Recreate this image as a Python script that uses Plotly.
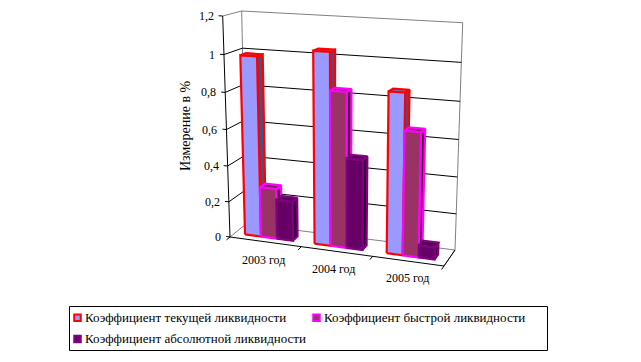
import plotly.graph_objects as go

categories = ["2003 год", "2004 год", "2005 год"]
series_names = ["Коэффициент текущей ликвидности", "Коэффициент быстрой ликвидности", "Коэффициент абсолютной ликвидности"]
s1_values = [0.99, 1.04, 0.86]
s2_values = [0.28, 0.84, 0.665]
s3_values = [0.22, 0.49, 0.065]
tick_values = [0, 0.2, 0.4, 0.6, 0.8, 1.0, 1.2]
tick_labels = ["0", "0,2", "0,4", "0,6", "0,8", "1", "1,2"]
y_title = "Измерение в %"

VMAX = 1.2
K = 0.946
# pixel positions of the eight corners of the 3D box: (u, top, depth)
C = {(0,0,0):(230,237),(0,1,0):(222.7,16),(0,0,1):(246,224),(0,1,1):(241.7,11),
     (1,0,0):(444,266),(1,1,0):(449.7,29.7),(1,0,1):(455,250),(1,1,1):(462.7,22.7)}

def proj(u, v, d):
    t = v / VMAX
    f = t * K / (1 + (K - 1) * t)
    x = y = 0.0
    for (a, b, c), (px, py) in C.items():
        w = (u if a else 1-u) * (f if b else 1-f) * (d if c else 1-d)
        x += w*px; y += w*py
    return x, y

fig = go.Figure()

def line(pts, color, width=1):
    xy = [proj(*p) for p in pts]
    fig.add_trace(go.Scatter(x=[a for a,_ in xy], y=[b for _,b in xy], mode="lines",
        line=dict(color=color, width=width), showlegend=False, hoverinfo="skip"))

def face(pts, fill, color, width):
    xy = [proj(*p) for p in pts + pts[:1]]
    fig.add_trace(go.Scatter(x=[a for a,_ in xy], y=[b for _,b in xy], mode="lines", fill="toself",
        fillcolor=fill, line=dict(color=color, width=width), showlegend=False, hoverinfo="skip"))

GRAY = "#808080"
# walls
line([(0,0,0),(0,0,1),(1,0,1),(1,0,0)], GRAY)
line([(0,0,1),(0,VMAX,1),(1,VMAX,1),(1,0,1)], GRAY)
line([(0,VMAX,0),(0,VMAX,1)], GRAY)
for v in tick_values[1:-1]:
    line([(0,v,0),(0,v,1),(1,v,1)], "black")
# axes
line([(0,0,0),(0,VMAX,0)], "black")
line([(0,0,0),(1,0,0),(1,0,1)], "black")
for v in tick_values:
    line([(-0.018,v,0),(0,v,0)], "black")
for i in range(len(categories)+1):
    line([(i/3,0,0),(i/3,0,-0.22)], "black")

styles = [("#9999ff","#4d4d80","#7373c0","#ff0000"),
          ("#993366","#4d1a33","#732650","#ff00ff"),
          ("#660066","#330033","#4d004d","#800080")]
series = [s1_values, s2_values, s3_values]
W, D0, D1 = 0.075, 0.30, 0.62
SHIFT = [0.006, 0.012, 0.006]
for i in range(len(categories)):
    left = (i+0.5)/3 - 1.5*W - SHIFT[i]
    for j, vals in enumerate(series):
        v = vals[i]
        a, b = left + j*W, left + (j+1)*W
        front, side, top, edge = styles[j]
        face([(b,0,D0),(b,0,D1),(b,v,D1),(b,v,D0)], side, edge, 2.2)
        face([(a,v,D0),(a,v,D1),(b,v,D1),(b,v,D0)], top, edge, 2.2)
        face([(a,0,D0),(b,0,D0),(b,v,D0),(a,v,D0)], front, edge, 2.2)

# legend, drawn by hand so that the marker sits right against its text
LX = [77.5, 316.5, 77.5]
LY = [317.7, 317.7, 339]
for name, st, lx, ly in zip(series_names, styles, LX, LY):
    fig.add_trace(go.Scatter(x=[lx], y=[ly], mode="markers", name=name, showlegend=False, hoverinfo="skip",
        marker=dict(symbol="square", size=6.5, color=st[0], line=dict(color=st[3], width=2))))

ann = []
for v, lab in zip(tick_values, tick_labels):
    x, y = proj(0, v, 0)
    ann.append(dict(x=x-7, y=y, text=lab, showarrow=False, xanchor="right", yanchor="middle"))
for lab, (x, y) in zip(categories, [(263,260),(333,269),(407,278)]):
    ann.append(dict(x=x, y=y, text=lab, showarrow=False, xanchor="center", yanchor="middle"))
ann.append(dict(x=185, y=126, text=y_title, textangle=-90, showarrow=False, font=dict(size=14),
                xanchor="center", yanchor="middle"))
for name, lx, ly in zip(series_names, LX, LY):
    ann.append(dict(x=lx+5.5, y=ly-0.5, text=name, showarrow=False, xanchor="left", yanchor="middle",
                    font=dict(size=13)))

fig.update_layout(width=641, height=362, margin=dict(l=0,r=0,t=0,b=0),
    paper_bgcolor="white", plot_bgcolor="white", showlegend=False,
    font=dict(family="Liberation Serif", size=12, color="black"),
    xaxis=dict(range=[0,641], visible=False), yaxis=dict(range=[362,0], visible=False),
    annotations=ann,
    shapes=[dict(type="rect", x0=69.5, x1=547.5, y0=306.5, y1=350.5, line=dict(color="black", width=1),
                 fillcolor="rgba(0,0,0,0)")])
fig.write_html("out.html", config={"displayModeBar": False},
               post_script="document.body.style.margin='0';document.body.style.overflow='hidden';")
